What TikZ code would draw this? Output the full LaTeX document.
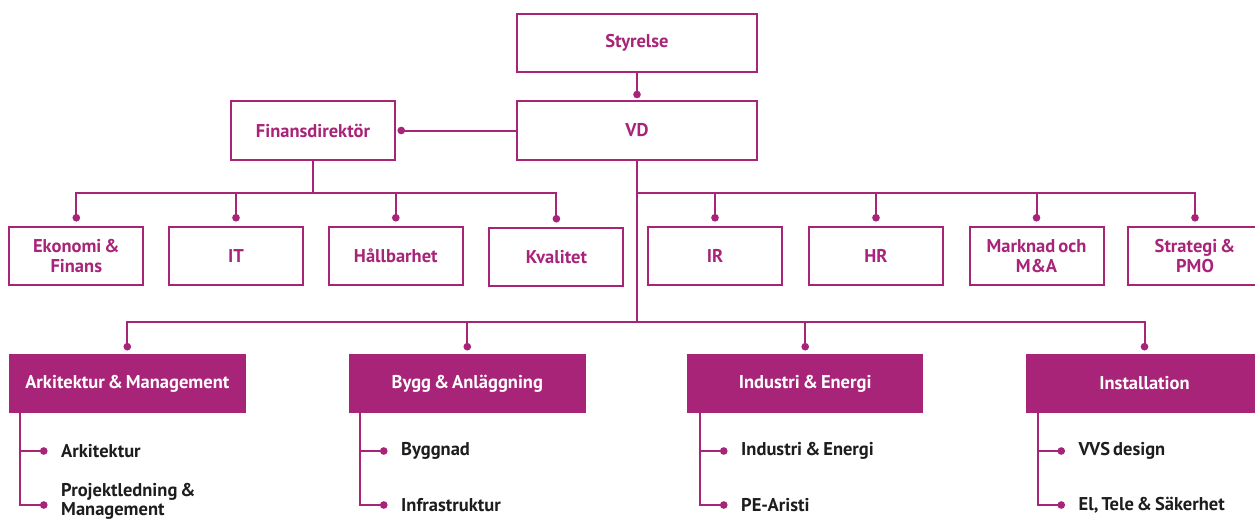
\documentclass[tikz,border=0pt]{standalone}
\usepackage{fontspec}
\setmainfont{PT Sans}[WordSpace=0.65]
\usetikzlibrary{arrows.meta}
\definecolor{brand}{RGB}{167,36,120}
\definecolor{ink}{RGB}{30,28,30}
\begin{document}
\begin{tikzpicture}[x=1pt,y=-1pt,
  every node/.style={font=\bfseries\fontsize{18.5}{19.5}\selectfont, align=center, inner sep=0pt},
  unit/.style={draw=brand, line width=2pt, text=brand, minimum height=58pt},
  smallbox/.style={unit, minimum width=134pt},
  bigbox/.style={unit, minimum width=240pt, minimum height=58.5pt},
  division/.style={fill=brand, text=white, minimum width=236.5pt, minimum height=58.5pt},
  item/.style={anchor=west, text=ink, align=left},
  conn/.style={draw=brand, line width=2pt, -{Circle[length=7.5pt,width=7.5pt]}},
  subconn/.style={conn, shorten >=13.5pt},
]
\useasboundingbox (0,0) rectangle (1255,519);

% top management
\node[bigbox] (sty) at (637,43) {Styrelse};
\node[bigbox] (vd) at (637,130.5) {VD};
\node[unit, minimum width=164pt, minimum height=58.5pt] (fin) at (313,130.5) {Finansdirektör};

% staff functions
\node[smallbox] (eko) at (76.3,256) {Ekonomi \&\\Finans};
\node[smallbox] (it)  at (236,256) {IT};
\node[smallbox] (hal) at (395.8,256) {Hållbarhet};
\node[smallbox] (kva) at (556.4,257) {Kvalitet};
\node[smallbox] (ir)  at (715,256) {IR};
\node[smallbox] (hr)  at (876,256) {HR};
\node[smallbox] (mar) at (1036.5,256) {Marknad och\\M\&A};
\node[smallbox] (str) at (1195,256) {Strategi \&\\PMO};

% divisions
\node[division] (ark) at (127.3,383.4) {Arkitektur \& Management};
\node[division] (byg) at (467.3,383.4) {Bygg \& Anläggning};
\node[division] (ind) at (805.2,383.4) {Industri \& Energi};
\node[division] (ins) at (1144.5,383.4) {Installation};

% business areas
\node[item] (arkA) at (61,451) {Arkitektur};
\node[item] (arkB) at (61,501.5) {Projektledning \&\\Management};
\node[item] (bygA) at (401,451) {Byggnad};
\node[item] (bygB) at (401,505) {Infrastruktur};
\node[item] (indA) at (741,451) {Industri \& Energi};
\node[item] (indB) at (741,505) {PE-Aristi};
\node[item] (insA) at (1078.5,451) {VVS design};
\node[item] (insB) at (1078.5,505) {El, Tele \& Säkerhet};

% bus junctions
\coordinate (finbus) at (313,193);
\coordinate (vdbus) at (637,193);
\coordinate (divbus) at (637,321.7);

% board and CFO
\draw[conn, shorten >=2pt] (sty.south) -- (vd.north);
\draw[conn, shorten >=1.5pt] (vd.west) -- (fin.east);

% CFO staff
\foreach \n in {eko,it,hal,kva}
  \draw[conn, shorten >=4.5pt] (fin.south) -- (finbus) -| (\n.north);

% CEO staff
\foreach \n in {ir,hr,mar,str}
  \draw[conn, shorten >=4.5pt] (vd.south) -- (vdbus) -| (\n.north);

% divisions
\foreach \n in {ark,byg,ind,ins}
  \draw[conn, shorten >=3.5pt] (vd.south) -- (divbus) -| (\n.north);

% business areas under each division
\draw[subconn] ([xshift=11pt]ark.south west) |- (arkA.west);
\draw[subconn] ([xshift=11pt]ark.south west) |- ([yshift=-3.5pt]arkB.west);
\draw[subconn] ([xshift=11pt]byg.south west) |- (bygA.west);
\draw[subconn] ([xshift=11pt]byg.south west) |- (bygB.west);
\draw[subconn] ([xshift=13pt]ind.south west) |- (indA.west);
\draw[subconn] ([xshift=13pt]ind.south west) |- (indB.west);
\draw[subconn] ([xshift=11.5pt]ins.south west) |- (insA.west);
\draw[subconn] ([xshift=11.5pt]ins.south west) |- (insB.west);
\end{tikzpicture}
\end{document}
